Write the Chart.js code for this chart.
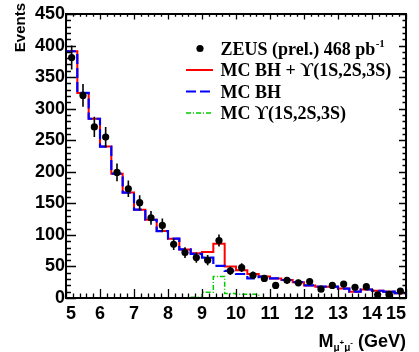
<!DOCTYPE html>
<html><head><meta charset="utf-8">
<script src="https://cdn.jsdelivr.net/npm/chart.js@4.4.1/dist/chart.umd.min.js"></script>
<style>html,body{margin:0;padding:0;background:#fff}#wrap{width:419px;height:352px;position:relative}</style>
</head><body><div id="wrap"><canvas id="c"></canvas></div>
<script>
// bin edges of the mass histogram (GeV)
const binEdges = [5.000,5.333,5.667,6.000,6.333,6.667,7.000,7.333,7.667,8.000,8.333,8.667,9.000,9.333,9.667,10.000,10.333,10.667,11.000,11.333,11.667,12.000,12.333,12.667,13.000,13.333,13.667,14.000,14.333,14.667,15.000];
// ZEUS data points (events per bin) and their errors
const dataCounts = [381,321,271,255,199,173,151,127,115,85,72,64,60,91,43,48,36,31,20,28,24,26,14,20,22,17,18,5,6,11];
const dataErrors = [19,18,16,16,14,13,12,11,11,9,8.5,8,8,9.5,6.5,7,6,5.5,4.5,5.3,5,5,3.7,4.5,4.7,4.1,4.2,2.2,2.4,3.3];
// MC histograms
const mcBH  = [391,325,284,240,197,167,140,124,106,94,77,70,64,51,43,38,31,34,31,28.5,25,20,18,18,15,10,13.5,11.5,10,7.5];
const mcSum = [391,325,284,240,197,167,140,124,106,94,77,71,73,86,50,44,38,34,31,28.5,25,20,18,18,15,10,13.5,11.5,10,7.5];
const mcUps = [0,0,0,0,0,0,0,0,0,0,0,1,9,34,7,6,6,0,0,0,0,0,0,0,0,0,0,0,0,0];
// tick labels
const xTickValues = [5,6,7,8,9,10,11,12,13,14,15];
const yTickValues = [0,50,100,150,200,250,300,350,400,450];

const centers = dataCounts.map((_, i) => (binEdges[i] + binEdges[i + 1]) / 2);
function steps(vals) {
  const pts = vals.map((v, i) => ({x: binEdges[i], y: v}));
  pts.push({x: binEdges[vals.length], y: vals[vals.length - 1]});
  return pts;
}
function stepsNonZero(vals) {
  let first = vals.findIndex(v => v > 0);
  let last = vals.length - 1 - [...vals].reverse().findIndex(v => v > 0);
  const pts = [];
  for (let i = first; i <= last; i++) pts.push({x: binEdges[i], y: vals[i]});
  pts.push({x: binEdges[last + 1], y: 0});
  return pts;
}

const SANS = '"Liberation Sans", Arial, Helvetica, sans-serif';
const SERIF = '"Liberation Serif", "Times New Roman", serif';

const deco = {
  id: 'deco',
  beforeDatasetDraw(chart, args) {
    if (args.index !== 0) return;
    const ctx = chart.ctx, xs = chart.scales.x, ys = chart.scales.y;
    ctx.save();
    ctx.strokeStyle = '#000'; ctx.lineWidth = 1.6;
    ctx.beginPath();
    centers.forEach((c, i) => {
      const x = xs.getPixelForValue(c);
      ctx.moveTo(x, ys.getPixelForValue(Math.max(0, dataCounts[i] - dataErrors[i])));
      ctx.lineTo(x, ys.getPixelForValue(dataCounts[i] + dataErrors[i]));
    });
    ctx.stroke();
    ctx.restore();
  },
  afterDraw(chart) {
    const ctx = chart.ctx, a = chart.chartArea, xs = chart.scales.x, ys = chart.scales.y;
    ctx.save();
    // ticks
    ctx.strokeStyle = '#000'; ctx.lineWidth = 1.3;
    ctx.beginPath();
    for (let k = 0; k <= 50; k++) {
      const v = 5 + k * 0.2, x = Math.round(xs.getPixelForValue(v)) + 0.5;
      const len = (k % 5 === 0) ? 9 : 4.5;
      ctx.moveTo(x, a.bottom); ctx.lineTo(x, a.bottom - len);
      ctx.moveTo(x, a.top); ctx.lineTo(x, a.top + len * 0.6);
    }
    for (let k = 0; k <= 45; k++) {
      const v = k * 10, y = Math.round(ys.getPixelForValue(v)) + 0.5;
      const len = (k % 5 === 0) ? 10 : 5;
      ctx.moveTo(a.left, y); ctx.lineTo(a.left + len, y);
      ctx.moveTo(a.right, y); ctx.lineTo(a.right - len * 0.7, y);
    }
    ctx.stroke();
    // frame
    ctx.lineWidth = 2;
    ctx.strokeRect(a.left, a.top, a.right - a.left, a.bottom - a.top);

    // legend
    ctx.fillStyle = '#000';
    ctx.beginPath(); ctx.arc(200, 48.5, 3.6, 0, Math.PI * 2); ctx.fill();
    ctx.lineWidth = 2; ctx.strokeStyle = '#ff0000';
    ctx.beginPath(); ctx.moveTo(186, 70); ctx.lineTo(213, 70); ctx.stroke();
    ctx.strokeStyle = '#0000ff'; ctx.lineWidth = 2.2; ctx.setLineDash([10, 4]);
    ctx.beginPath(); ctx.moveTo(186, 91.5); ctx.lineTo(213, 91.5); ctx.stroke();
    ctx.strokeStyle = '#00cc00'; ctx.lineWidth = 1.5; ctx.setLineDash([5, 2, 1, 2]);
    ctx.beginPath(); ctx.moveTo(186, 113); ctx.lineTo(213, 113); ctx.stroke();
    ctx.setLineDash([]);
    ctx.textAlign = 'left'; ctx.textBaseline = 'alphabetic';
    ctx.font = 'bold 18px ' + SERIF;
    const t1 = 'ZEUS (prel.) 468 pb';
    ctx.fillText(t1, 220.5, 55);
    const w1 = ctx.measureText(t1).width;
    ctx.font = 'bold 11px ' + SERIF;
    ctx.fillText('-1', 220.5 + w1 + 0.5, 47);
    ctx.font = 'bold 18px ' + SERIF;
    ctx.fillText('MC BH + \u03D2(1S,2S,3S)', 220.5, 76);
    ctx.fillText('MC BH', 220.5, 97.5);
    ctx.fillText('MC \u03D2(1S,2S,3S)', 220.5, 119);

    // x title  M_{mu+ mu-} (GeV)
    const parts = [
      {t: 'M', f: 'bold 18px ' + SANS, dy: 0},
      {t: '\u03BC', f: 'bold 10px ' + SANS, dy: 4},
      {t: '+', f: 'bold 8px ' + SANS, dy: -2},
      {t: '\u03BC', f: 'bold 10px ' + SANS, dy: 4},
      {t: '-', f: 'bold 8px ' + SANS, dy: -2},
      {t: ' (GeV)', f: 'bold 18px ' + SANS, dy: 0}
    ];
    let total = 0;
    parts.forEach(p => { ctx.font = p.f; p.w = ctx.measureText(p.t).width; total += p.w; });
    let x = 406 - total;
    parts.forEach(p => { ctx.font = p.f; ctx.fillText(p.t, x, 347 + p.dy); x += p.w; });

    // y title
    ctx.save();
    ctx.translate(25, 3);
    ctx.rotate(-Math.PI / 2);
    ctx.textAlign = 'right';
    ctx.font = 'bold 15px ' + SANS;
    ctx.fillText('Events', 0, 0);
    ctx.restore();
    ctx.restore();
  }
};

new Chart(document.getElementById('c'), {
  type: 'line',
  data: {
    datasets: [
      {label: 'ZEUS (prel.) 468 pb-1', data: centers.map((c, i) => ({x: c, y: dataCounts[i]})),
       showLine: false, pointRadius: 3.6, pointBackgroundColor: '#000', pointBorderWidth: 0, pointBorderColor: '#000'},
      {label: 'MC BH', data: steps(mcBH), stepped: true, borderColor: '#0000ff', borderWidth: 2.2,
       borderDash: [10, 4], pointRadius: 0, fill: false},
      {label: 'MC BH + Upsilon', data: steps(mcSum), stepped: true, borderColor: '#ff0000', borderWidth: 2,
       pointRadius: 0, fill: false},
      {label: 'MC Upsilon', data: stepsNonZero(mcUps), stepped: true, borderColor: '#00cc00', borderWidth: 1.5,
       borderDash: [5, 2, 1, 2], pointRadius: 0, fill: false}
    ]
  },
  options: {
    responsive: true, maintainAspectRatio: false, animation: false, devicePixelRatio: 1,
    layout: {padding: {left: 0, right: 13, top: 14, bottom: 0}},
    plugins: {legend: {display: false}, tooltip: {enabled: false}},
    scales: {
      x: {type: 'linear', min: 5, max: 15,
          afterBuildTicks: s => { s.ticks = xTickValues.map(v => ({value: v})); },
          afterFit: s => { s.height = 54; },
          grid: {display: false, drawTicks: false}, border: {display: false},
          ticks: {color: '#000', align: 'inner', padding: 5, maxRotation: 0, autoSkip: false,
                  font: {family: SANS, size: 18, weight: 'bold'}}},
      y: {type: 'linear', min: 0, max: 450,
          afterBuildTicks: s => { s.ticks = yTickValues.map(v => ({value: v})); },
          afterFit: s => { s.width = 66; },
          grid: {display: false, drawTicks: false}, border: {display: false},
          ticks: {color: '#000', padding: 1, autoSkip: false,
                  font: {family: SANS, size: 18, weight: 'bold'}}}
    }
  },
  plugins: [deco]
});
</script></body></html>
